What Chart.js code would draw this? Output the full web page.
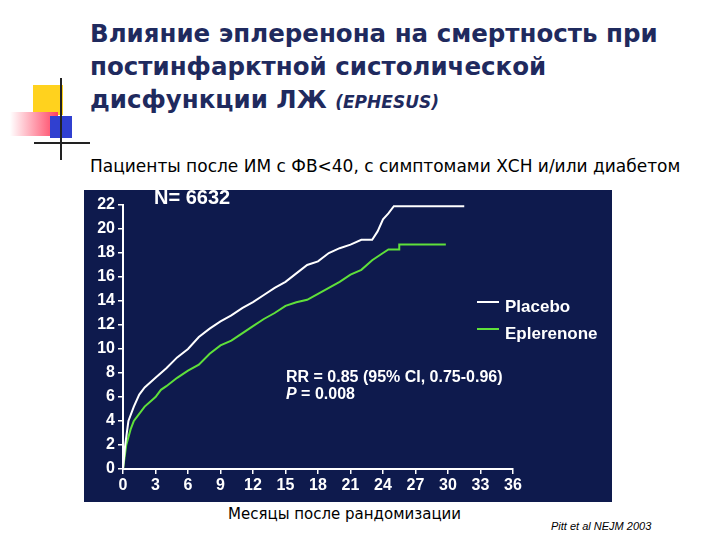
<!DOCTYPE html>
<html><head><meta charset="utf-8">
<script src="https://cdn.jsdelivr.net/npm/chart.js@4"></script>
<style>
body{margin:0;width:720px;height:540px;background:#fff;position:relative;overflow:hidden;font-family:"Liberation Sans",Arial,sans-serif}
.t{position:absolute;left:90px;top:17px;font:bold 24.5px "DejaVu Sans",sans-serif;color:#1f2a5e;line-height:33px}
.t i{font-size:17px;color:#1f2a5e}
.sub{position:absolute;left:90px;top:156px;font:17px "DejaVu Sans",sans-serif;color:#000}
#wrap{position:absolute;left:84px;top:190px;width:528px;height:312px;background:#0e1a4d}
.o{position:absolute;color:#fff;font-weight:bold;font-family:"Liberation Sans",Arial,sans-serif}
</style></head><body>
<div style="position:absolute;left:33px;top:85px;width:30px;height:30px;background:#ffd21e"></div>
<div style="position:absolute;left:10px;top:112px;width:48px;height:24px;background:linear-gradient(90deg,#fff,#ff4060)"></div>
<div style="position:absolute;left:50px;top:116px;width:22px;height:22px;background:#3040d0"></div>
<div style="position:absolute;left:60px;top:78px;width:2px;height:82px;background:#222"></div>
<div style="position:absolute;left:34px;top:142px;width:56px;height:2px;background:#222"></div>
<div class="t">Влияние эплеренона на смертность при<br>постинфарктной систолической<br>дисфункции ЛЖ <i>(EPHESUS)</i></div>
<div class="sub">Пациенты после ИМ с ФВ&lt;40, с симптомами ХСН и/или диабетом</div>
<div id="wrap"><canvas id="c" width="528" height="312"></canvas>
<div class="o" style="left:70px;top:-4px;font-size:20px">N= 6632</div>
<div class="o" style="left:393px;top:111px;width:22px;height:2px;background:#fff"></div>
<div class="o" style="left:421px;top:107px;font-size:17px">Placebo</div>
<div class="o" style="left:393px;top:138px;width:22px;height:2px;background:#5fe03a"></div>
<div class="o" style="left:421px;top:134px;font-size:17px">Eplerenone</div>
<div class="o" style="left:202px;top:178px;font-size:16px;line-height:17px">RR = 0.85 (95% CI, 0.75-0.96)<br><i>P</i> = 0.008</div>
</div>
<div style="position:absolute;left:228px;top:505px;font:15px 'DejaVu Sans',sans-serif">Месяцы после рандомизации</div>
<div style="position:absolute;left:551px;top:520px;font:italic 11px 'Liberation Sans',Arial">Pitt et al NEJM 2003</div>
<script>
const placeboX=[0,0.2,0.5,1,1.5,2,3,4,5,6,7,8,9,10,11,12,13,14,15,16,17,18,19,20,21,22,23,23.5,24,24.5,25,31.5];
const placeboY=[0,2,4,5.2,6.2,6.8,7.6,8.4,9.3,10,11,11.7,12.3,12.8,13.4,13.9,14.5,15.1,15.6,16.3,17,17.3,18,18.4,18.7,19.1,19.1,19.8,20.8,21.3,21.9,21.9];
const eplX=[0,0.3,0.7,1,2,3,3.5,4,5,6,7,8,9,10,11,12,13,14,15,16,17,18,19,20,21,22,23,24,24.5,25.5,25.5,29.8];
const eplY=[0,2,3.3,4,5.2,6,6.6,6.9,7.6,8.2,8.7,9.6,10.3,10.7,11.3,11.9,12.5,13,13.6,13.9,14.1,14.6,15.1,15.6,16.2,16.6,17.4,18,18.3,18.3,18.7,18.7];
const xTicks=[0,3,6,9,12,15,18,21,24,27,30,33,36];
const yTicks=[0,2,4,6,8,10,12,14,16,18,20,22];
const pts=(xs,ys)=>xs.map((x,i)=>({x,y:ys[i]}));
const tf={color:'#fff',font:{family:'Liberation Sans',size:16,weight:'bold'}};
const gr={drawOnChartArea:false,drawTicks:true,tickLength:5,color:'#fff',lineWidth:1.5};
new Chart(document.getElementById('c'),{type:'line',
data:{datasets:[
{label:'Placebo',data:pts(placeboX,placeboY),borderColor:'#fff',borderWidth:2,pointRadius:0,tension:0},
{label:'Eplerenone',data:pts(eplX,eplY),borderColor:'#5fe03a',borderWidth:2,pointRadius:0,tension:0}]},
options:{responsive:false,animation:false,layout:{padding:{top:15,right:99,left:0,bottom:0}},
plugins:{legend:{display:false},tooltip:{enabled:false}},
scales:{
x:{type:'linear',min:0,max:36,afterBuildTicks:a=>{a.ticks=xTicks.map(v=>({value:v}))},afterFit:a=>{a.height=33},
 grid:gr,border:{color:'#fff',width:2},ticks:{...tf,padding:2}},
y:{min:0,max:22,afterBuildTicks:a=>{a.ticks=yTicks.map(v=>({value:v}))},afterFit:a=>{a.width=39},
 grid:gr,border:{color:'#fff',width:2},ticks:{...tf,padding:3}}
}}});
</script></body></html>
